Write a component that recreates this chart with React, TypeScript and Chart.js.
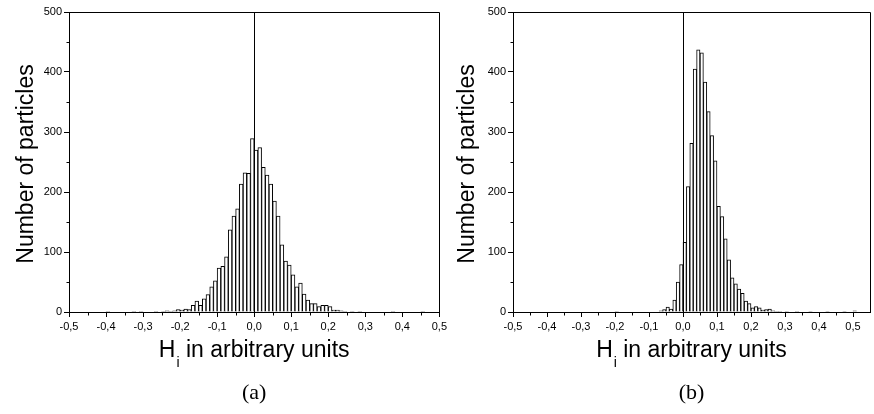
import { useEffect, useRef } from 'react';
import { Chart, registerables } from 'chart.js';

Chart.register(...registerables);

const BIN_WIDTH = 0.01;

// Panel (a): left edge of each non-empty bin and its count
const binStartsA = [
  -0.40, -0.33, -0.31, -0.27, -0.25, -0.24, -0.23, -0.22, -0.21, -0.20,
  -0.19, -0.18, -0.17, -0.16, -0.15, -0.14, -0.13, -0.12, -0.11, -0.10,
  -0.09, -0.08, -0.07, -0.06, -0.05, -0.04, -0.03, -0.02, -0.01, 0.00,
  0.01, 0.02, 0.03, 0.04, 0.05, 0.06, 0.07, 0.08, 0.09, 0.10,
  0.11, 0.12, 0.13, 0.14, 0.15, 0.16, 0.17, 0.18, 0.19, 0.20,
  0.21, 0.22, 0.23, 0.24, 0.26, 0.28, 0.37, 0.45,
];
const countsA = [
  1, 1, 1, 1, 1, 2, 1, 2, 4, 3,
  5, 4, 11, 18, 11, 22, 29, 42, 52, 73,
  76, 92, 137, 160, 172, 213, 232, 231, 289, 270,
  274, 241, 228, 213, 185, 160, 112, 85, 78, 62,
  42, 48, 30, 20, 14, 14, 9, 11, 11, 9,
  3, 3, 2, 1, 1, 1, 1, 1,
];

// Panel (b)
const binStartsB = [
  -0.20, -0.07, -0.06, -0.05, -0.04, -0.03, -0.02, -0.01, 0.00, 0.01,
  0.02, 0.03, 0.04, 0.05, 0.06, 0.07, 0.08, 0.09, 0.10, 0.11,
  0.12, 0.13, 0.14, 0.15, 0.16, 0.17, 0.18, 0.19, 0.20, 0.21,
  0.22, 0.23, 0.24, 0.25, 0.26, 0.27, 0.28, 0.30, 0.33, 0.37,
  0.42, 0.47, 0.50,
];
const countsB = [
  1, 2, 4, 8, 5, 20, 50, 79, 116, 209,
  281, 405, 437, 432, 383, 334, 294, 252, 176, 159,
  122, 87, 57, 47, 38, 31, 18, 14, 7, 9,
  7, 3, 4, 5, 2, 1, 1, 1, 1, 1,
  1, 1, 2,
];

const xTickValues = [-0.5, -0.4, -0.3, -0.2, -0.1, 0, 0.1, 0.2, 0.3, 0.4, 0.5];
const xMinorTickValues = [-0.45, -0.35, -0.25, -0.15, -0.05, 0.05, 0.15, 0.25, 0.35, 0.45];
const yTickValues = [0, 100, 200, 300, 400, 500];
const yMinorTickValues = [50, 150, 250, 350, 450];

const Y_TITLE = 'Number of particles';
const X_TITLE_MAIN = 'H';
const X_TITLE_SUB = 'i';
const X_TITLE_REST = ' in arbitrary units';

const SANS = '"Liberation Sans", Arial, sans-serif';
const SERIF = '"Liberation Serif", "Times New Roman", serif';
const H = 414;

type PanelProps = {
  starts: number[];
  counts: number[];
  xMin: number;
  xMax: number;
  left: number;
  width: number;
  areaLeft: number;
  areaRight: number;
  yTitleX: number;
  label: string;
};

function Panel(p: PanelProps) {
  const ref = useRef<HTMLCanvasElement>(null);
  useEffect(() => {
    const canvas = ref.current!;
    const data = p.starts.map((s, i) => ({ x: s + BIN_WIDTH / 2, y: p.counts[i] }));

    const decor = {
      id: 'decor',
      afterDraw(chart: any) {
        const { ctx, chartArea: a, scales } = chart;
        const xs = scales.x;
        const ys = scales.y;
        ctx.save();
        ctx.strokeStyle = '#000';
        ctx.lineWidth = 1;
        const L = Math.round(a.left) + 0.5;
        const R = Math.round(a.right) + 0.5;
        const T = Math.round(a.top) + 0.5;
        const B = Math.round(a.bottom) + 0.5;
        ctx.beginPath();
        ctx.moveTo(L, T);
        ctx.lineTo(R, T);
        ctx.lineTo(R, B);
        // zero line
        const zx = Math.round(xs.getPixelForValue(0)) + 0.5;
        ctx.moveTo(zx, T);
        ctx.lineTo(zx, B);
        // minor ticks
        for (const v of xMinorTickValues) {
          const px = Math.round(xs.getPixelForValue(v)) + 0.5;
          ctx.moveTo(px, B);
          ctx.lineTo(px, B + 3);
        }
        for (const v of yMinorTickValues) {
          const py = Math.round(ys.getPixelForValue(v)) + 0.5;
          ctx.moveTo(L, py);
          ctx.lineTo(L - 3, py);
        }
        ctx.stroke();

        ctx.fillStyle = '#000';
        // x title with subscript
        const cx = (a.left + a.right) / 2;
        ctx.textBaseline = 'alphabetic';
        ctx.textAlign = 'left';
        ctx.font = `23px ${SANS}`;
        const wH = ctx.measureText(X_TITLE_MAIN).width;
        const wRest = ctx.measureText(X_TITLE_REST).width;
        ctx.font = `14px ${SANS}`;
        const wSub = ctx.measureText(X_TITLE_SUB).width;
        const total = wH + 1 + wSub + wRest;
        let x = cx - total / 2;
        ctx.font = `23px ${SANS}`;
        ctx.fillText(X_TITLE_MAIN, x, 357);
        x += wH + 1;
        ctx.font = `14px ${SANS}`;
        ctx.fillText(X_TITLE_SUB, x, 367);
        x += wSub;
        ctx.font = `23px ${SANS}`;
        ctx.fillText(X_TITLE_REST, x, 357);

        // y title
        ctx.save();
        ctx.translate(p.yTitleX, 164);
        ctx.rotate(-Math.PI / 2);
        ctx.textAlign = 'center';
        ctx.font = `23px ${SANS}`;
        ctx.fillText(Y_TITLE, 0, 0);
        ctx.restore();

        // panel label
        ctx.textAlign = 'center';
        ctx.font = `22px ${SERIF}`;
        ctx.fillText(p.label, cx, 399);
        ctx.restore();
      },
    };

    const tickFont = { family: SANS, size: 11 };
    const chart = new Chart(canvas, {
      type: 'bar',
      data: {
        datasets: [
          {
            data: data as any,
            backgroundColor: '#ffffff',
            borderColor: '#000000',
            borderWidth: 1,
            barPercentage: 1,
            categoryPercentage: 1,
            borderSkipped: 'start',
          },
        ],
      },
      options: {
        responsive: false,
        animation: false,
        events: [],
        layout: { padding: { left: 0, top: 12, right: p.width - p.areaRight, bottom: 72 } },
        plugins: { legend: { display: false }, tooltip: { enabled: false }, title: { display: false } },
        scales: {
          x: {
            type: 'linear',
            min: p.xMin,
            max: p.xMax,
            offset: false,
            afterFit: (s: any) => { s.height = 30; },
            afterBuildTicks: (s: any) => { s.ticks = xTickValues.map((v) => ({ value: v })); },
            ticks: {
              autoSkip: false,
              maxRotation: 0,
              padding: 3,
              color: '#000',
              font: tickFont,
              callback: (v: any) => Number(v).toFixed(1).replace('.', ','),
            },
            grid: { offset: false, drawOnChartArea: false, tickLength: 5, color: '#000', lineWidth: 1 },
            border: { display: true, color: '#000', width: 1 },
          },
          y: {
            type: 'linear',
            min: 0,
            max: 500,
            afterFit: (s: any) => { s.width = p.areaLeft; },
            afterBuildTicks: (s: any) => { s.ticks = yTickValues.map((v) => ({ value: v })); },
            ticks: {
              autoSkip: false,
              padding: 2,
              color: '#000',
              font: { family: SANS, size: 11 },
              callback: (v: any) => String(v),
            },
            grid: { drawOnChartArea: false, tickLength: 5, color: '#000', lineWidth: 1 },
            border: { display: true, color: '#000', width: 1 },
          },
        },
      } as any,
      plugins: [decor],
    });
    return () => chart.destroy();
  }, []);
  return (
    <canvas
      ref={ref}
      width={p.width}
      height={H}
      style={{ position: 'absolute', left: p.left, top: 0, width: p.width, height: H }}
    />
  );
}

export default function App() {
  return (
    <div style={{ position: 'fixed', left: 0, top: 0, width: 874, height: H, background: '#fff' }}>
      <Panel
        starts={binStartsA}
        counts={countsA}
        xMin={-0.5}
        xMax={0.5}
        left={0}
        width={450}
        areaLeft={69}
        areaRight={441}
        yTitleX={33}
        label="(a)"
      />
      <Panel
        starts={binStartsB}
        counts={countsB}
        xMin={-0.5}
        xMax={0.55}
        left={450}
        width={424}
        areaLeft={63}
        areaRight={420}
        yTitleX={24}
        label="(b)"
      />
    </div>
  );
}
